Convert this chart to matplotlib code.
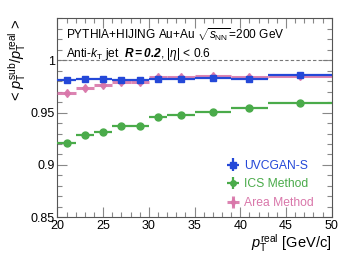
import numpy as np
import matplotlib
matplotlib.use("Agg")
import matplotlib.pyplot as plt
from matplotlib.ticker import MultipleLocator

plt.rcParams['font.family'] = ['Liberation Sans', 'DejaVu Sans']
plt.rcParams['mathtext.fontset'] = 'custom'
plt.rcParams['mathtext.rm'] = 'Liberation Sans'
plt.rcParams['mathtext.it'] = 'Liberation Sans:italic'
plt.rcParams['mathtext.bf'] = 'Liberation Sans:bold:italic'

# bins in pT real
bin_edges = np.array([20, 22, 24, 26, 28, 30, 32, 35, 39, 43, 50])
uvcgan = [0.9815, 0.982, 0.982, 0.9815, 0.981, 0.982, 0.982, 0.983, 0.982, 0.9862]
ics = [0.921, 0.9287, 0.9315, 0.9369, 0.9373, 0.9455, 0.9474, 0.9507, 0.9545, 0.9589]
area = [0.9688, 0.9736, 0.9761, 0.9794, 0.979, 0.9842, 0.9842, 0.9845, 0.984, 0.985]
area_err = [0.002, 0.002, 0.002, 0.002, 0.002, 0.002, 0.002, 0.0025, 0.0025, 0.003]

centers = 0.5 * (bin_edges[1:] + bin_edges[:-1])
halfw = 0.5 * (bin_edges[1:] - bin_edges[:-1])

blue = '#2448d8'
green = '#4aab4a'
pink = '#d977aa'

fig = plt.figure(figsize=(3.57, 2.59), dpi=100)
ax = fig.add_axes([0.161, 0.161, 0.768, 0.768])

ax.errorbar(centers, area, xerr=halfw, yerr=area_err, fmt='d', color=pink,
            ms=4.5, lw=2.2, elinewidth=2.2, alpha=0.9, label='Area Method', zorder=3)
ax.errorbar(centers, uvcgan, xerr=halfw, yerr=0.0006, fmt='s', color=blue,
            ms=5, elinewidth=1.6, label='UVCGAN-S', zorder=4)
ax.errorbar(centers, ics, xerr=halfw, yerr=0.0004, fmt='o', color=green,
            ms=5, elinewidth=1.6, label='ICS Method', zorder=3)

ax.axhline(1.0, color='#777777', ls='--', lw=0.8, dashes=(3, 2))

ax.set_xlim(20, 50)
ax.set_ylim(0.85, 1.04)
ax.xaxis.set_major_locator(MultipleLocator(5))
ax.xaxis.set_minor_locator(MultipleLocator(1))
ax.yaxis.set_major_locator(MultipleLocator(0.05))
ax.yaxis.set_minor_locator(MultipleLocator(0.01))
ax.set_yticks([0.85, 0.9, 0.95, 1.0])
ax.set_yticklabels(['0.85', '0.9', '0.95', '1'])
ax.tick_params(which='both', direction='in', top=True, right=True, labelsize=9, pad=2)
ax.tick_params(which='major', length=7, width=0.8, color='#888888')
ax.tick_params(which='minor', length=3.5, width=0.8, color='#888888')
for s in ax.spines.values():
    s.set_color('#555555')

ax.set_xlabel(r'$p_{\mathrm{T}}^{\mathrm{real}}$ [GeV/c]', fontsize=10.5, loc='right', labelpad=0)
ax.set_ylabel(r'< $p_{\mathrm{T}}^{\mathrm{sub}}/p_{\mathrm{T}}^{\mathrm{real}}$ >', fontsize=10.5, loc='top', labelpad=2)

ax.text(0.03, 0.92, r'PYTHIA+HIJING Au+Au $\sqrt{s_{\mathrm{NN}}}$=200 GeV', transform=ax.transAxes,
        fontsize=8.6, va='center')
ax.text(0.03, 0.82, r'Anti-$k_{\mathrm{T}}$ jet  $\mathbf{R}$$\bf{=0.2}$, $|\eta|$ < 0.6', transform=ax.transAxes,
        fontsize=8.6, va='center')

handles, labels = ax.get_legend_handles_labels()
order = [1, 2, 0]
leg = ax.legend([handles[i] for i in order], [labels[i] for i in order],
                loc='lower right', bbox_to_anchor=(0.96, 0.005), frameon=False,
                fontsize=8.7, handlelength=1.2, handletextpad=0.3, labelspacing=0.55,
                borderaxespad=0.2, markerscale=0.8)
for txt, c in zip(leg.get_texts(), [blue, green, pink]):
    txt.set_color(c)

fig.savefig('out.png', dpi=100)
